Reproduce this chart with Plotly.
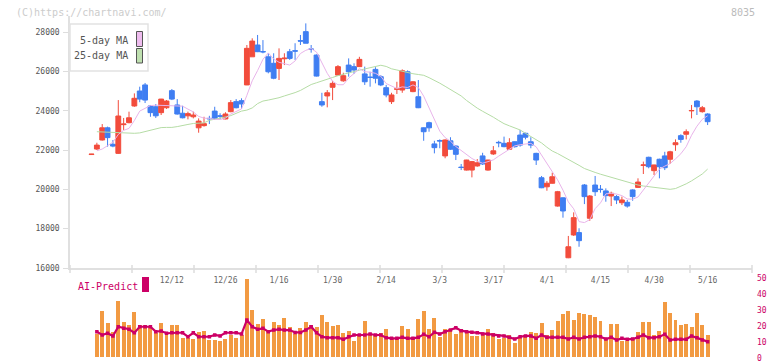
import plotly.graph_objects as go

# ---------------- data ----------------
idx = list(range(116))
tick_idx = [15, 25, 35, 45, 55, 65, 75, 85, 95, 105, 115]
tick_labels = ["12/12", "12/26", "1/16", "1/30", "2/14", "3/3", "3/17", "4/1", "4/15", "4/30", "5/16"]
price_ticks = [16000, 18000, 20000, 22000, 24000, 26000, 28000]
price_tick_labels = ["16000", "18000", "20000", "22000", "24000", "26000", "28000"]
ai_ticks = [0, 10, 20, 30, 40, 50]

opens = [21770, 22050, 22510, 23130, 22290, 21830, 23290, 23390, 24240, 25000,
         25310, 24240, 24200, 23900, 24150, 25020, 24290, 23870, 23740, 23690,
         23130, 23240, 23610, 23980, 23740, 23580, 23950, 24460, 24510, 25310,
         26740, 27340, 27010, 26740, 26410, 26150, 26640, 27000, 27050, 27560,
         28020, 27140, 26830, 24460, 24750, 25190, 25810, 25520, 26320, 26240,
         26240, 25870, 25710, 26100, 25730, 25170, 24460, 25090, 25050, 25980,
         24970, 24710, 23130, 23390, 22310, 22480, 21700, 22470, 22200, 21130,
         20980, 20980, 21190, 21700, 20980, 21800, 22390, 22340, 22040, 22420,
         22760, 22850, 22420, 21830, 20590, 20130, 20310, 19150, 19570, 16520,
         17680, 17800, 20220, 18530, 20220, 20010, 19920, 19660, 19630, 19320,
         19340, 19970, 20100, 21220, 21630, 20950, 21530, 21700, 21530, 22270,
         22730, 22800, 23990, 24490, 23950, 23830]
highs = [21800, 22370, 23320, 23190, 22510, 24540, 23630, 23950, 24880, 25220,
         25410, 24290, 24340, 24600, 24540, 25100, 24590, 24250, 23950, 23950,
         23610, 23690, 23740, 24200, 23870, 23920, 24540, 24590, 24630, 27340,
         27680, 27850, 27590, 26920, 26920, 27170, 26920, 27140, 27430, 27850,
         28440, 27340, 26860, 24910, 25050, 25520, 26320, 25930, 26660, 26410,
         26740, 26240, 25980, 26210, 25810, 25310, 24910, 25470, 26100, 26050,
         25500, 25560, 23150, 23440, 22470, 22540, 22540, 22650, 22250, 21290,
         21500, 21440, 21540, 21860, 21500, 22200, 22470, 22680, 22600, 22440,
         23020, 22880, 22650, 21860, 20680, 20420, 20850, 19920, 19590, 17630,
         18830, 18020, 20270, 19710, 20680, 20220, 20050, 19880, 19710, 19630,
         19460, 20000, 20560, 21410, 21660, 21250, 21560, 21910, 21960, 22540,
         22800, 23050, 24290, 24540, 24240, 23870]
lows = [21760, 22000, 22480, 22170, 22140, 21800, 23020, 23360, 24200, 24430,
        24390, 23690, 23630, 23780, 24090, 24540, 23800, 23610, 23560, 23610,
        22880, 23190, 23320, 23530, 23560, 23560, 23920, 24120, 24090, 25300,
        26740, 26980, 26920, 25900, 25600, 25560, 26320, 26580, 26580, 27340,
        27430, 26950, 25740, 24200, 24170, 24540, 25810, 25470, 25730, 25870,
        26220, 25310, 25220, 25390, 25250, 24680, 24340, 24850, 24910, 25100,
        24940, 24130, 22470, 22930, 21830, 22090, 21580, 22000, 21490, 20980,
        20960, 20610, 21150, 21240, 20950, 21750, 22140, 22140, 22000, 22120,
        22170, 22540, 22090, 21240, 20060, 19930, 20290, 19120, 18560, 16500,
        17630, 17080, 19250, 18400, 19660, 19830, 19370, 19150, 19250, 19200,
        19070, 19420, 20080, 20780, 21070, 20730, 20560, 20980, 21290, 21960,
        22370, 22540, 23610, 23780, 23900, 23270]
closes = [21790, 22250, 23130, 22630, 22200, 23730, 23320, 23640, 24630, 24590,
          24540, 23900, 23740, 24590, 24490, 24590, 23830, 23640, 23850, 23780,
          23470, 23340, 23590, 23610, 23720, 23830, 24410, 24150, 24340, 27170,
          27540, 27000, 26990, 25980, 25650, 26660, 26670, 26660, 27030, 27540,
          27430, 27120, 25760, 24290, 24910, 25390, 26240, 25780, 25980, 26070,
          26610, 25470, 25690, 25650, 25310, 24800, 24800, 25110, 26030, 25140,
          25470, 24150, 22930, 23130, 22120, 22460, 22510, 22040, 21780, 21110,
          21490, 21410, 21350, 21290, 21490, 21960, 22370, 22170, 22370, 22170,
          22250, 22650, 22250, 21490, 20080, 20310, 20640, 19880, 18900, 17080,
          18560, 17390, 19630, 19660, 19880, 19990, 19680, 19800, 19460, 19460,
          19150, 19630, 20370, 21240, 21150, 21240, 21150, 21100, 21910, 22370,
          22540, 22930, 24010, 24200, 24150, 23440]

ma5 = [None,
       21960, 22050, 22220, 22400, 22790, 23000, 23100, 23500, 23980, 24140,
       24260, 24280, 24270, 24250, 24260, 24250, 24230, 24080, 23940, 23710,
       23620, 23610, 23560, 23550, 23620, 23830, 23940, 24090, 24780, 25520,
       26040, 26610, 26940, 26630, 26460, 26390, 26320, 26530, 26910, 27070,
       27160, 26980, 26430, 25900, 25490, 25320, 25320, 25660, 25890, 26140,
       25980, 25960, 25900, 25750, 25380, 25250, 25130, 25210, 25180, 25310,
       25180, 24740, 24160, 23560, 22960, 22630, 22450, 22180, 21980, 21790,
       21570, 21430, 21330, 21410, 21500, 21690, 21860, 22070, 22210, 22270,
       22320, 22340, 22160, 21740, 21360, 20950, 20480, 19960, 19360, 19010,
       18360, 18310, 18460, 19020, 19310, 19770, 19800, 19760, 19680, 19510,
       19500, 19610, 19970, 20310, 20730, 21030, 21180, 21310, 21550, 21810,
       22170, 22750, 23210, 23560, 23740]
ma25 = [None,
        22930, 22920, 22900, 22890, 22870, 22850, 22850, 22850, 22870, 22940,
        23020, 23090, 23140, 23150, 23150, 23190, 23230, 23300, 23350, 23360,
        23380, 23510, 23560, 23610, 23680, 23750, 23850, 23980, 24030, 24140,
        24360, 24490, 24540, 24590, 24660, 24750, 24830, 24920, 25030, 25180,
        25330, 25420, 25500, 25600, 25690, 25780, 25860, 25930, 25990, 26060,
        26130, 26200, 26270, 26310, 26250, 26130, 26070, 26000, 25930, 25880,
        25840, 25800, 25680, 25550, 25400, 25240, 25090, 24930, 24750, 24520,
        24310, 24130, 23970, 23840, 23670, 23500, 23340, 23230, 23120, 23020,
        22850, 22700, 22530, 22360, 22140, 21950, 21820, 21680, 21540, 21390,
        21220, 21060, 20940, 20860, 20770, 20690, 20610, 20530, 20450, 20370,
        20290, 20220, 20170, 20140, 20100, 20070, 20030, 20000, 20040, 20150,
        20280, 20430, 20590, 20780, 21030]

volume = [None,
          14.9, 29.4, 21.9, 16.0, 35.7, 22.5, 20.6, 28.8, 20.6, 20.6,
          20.0, 15.6, 21.9, 15.6, 20.6, 20.6, 12.4, 12.4, 11.8, 16.2,
          16.8, 11.2, 11.2, 10.5, 11.8, 14.3, 12.4, 14.3, 49.5, 30.0,
          21.2, 24.4, 17.4, 22.5, 20.6, 25.0, 19.3, 14.9, 18.7, 22.5,
          20.6, 19.3, 26.9, 22.5, 20.0, 20.6, 15.6, 16.8, 10.5, 13.7,
          23.1, 14.3, 14.9, 15.6, 18.1, 11.8, 11.8, 20.0, 18.1, 13.0,
          24.4, 29.4, 18.1, 25.0, 13.0, 18.1, 18.1, 14.9, 18.1, 15.6,
          13.7, 13.7, 15.6, 18.1, 15.6, 11.8, 12.4, 14.3, 9.2, 12.4,
          14.3, 16.2, 15.6, 21.9, 14.3, 17.4, 23.1, 27.5, 29.4, 23.7,
          28.1, 27.5, 26.9, 25.6, 23.1, 11.8, 21.2, 21.2, 10.5, 10.5,
          12.4, 16.2, 22.5, 22.5, 14.3, 16.8, 35.1, 28.1, 23.7, 20.6,
          21.2, 19.3, 28.1, 20.6, 14.3]
ai_predict = [None,
              16.4, 14.3, 15.4, 13.7, 19.5, 18.5, 17.9, 15.7, 19.5, 19.5,
              19.5, 16.4, 16.8, 15.4, 15.7, 15.7, 15.7, 13.2, 15.7, 13.2,
              13.2, 13.2, 14.3, 13.7, 15.7, 15.7, 15.7, 14.9, 23.7, 19.5,
              17.9, 18.5, 16.4, 17.4, 17.9, 17.4, 17.4, 15.9, 15.9, 17.4,
              19.5, 15.7, 13.2, 12.6, 12.6, 12.6, 11.6, 13.2, 14.3, 14.3,
              14.3, 14.9, 14.3, 14.3, 12.6, 12.2, 12.2, 12.8, 12.2, 12.2,
              12.8, 14.7, 13.2, 16.0, 14.9, 16.4, 17.4, 18.9, 17.0, 16.4,
              16.0, 15.7, 14.9, 14.9, 14.3, 13.7, 13.7, 12.8, 11.8, 13.2,
              13.7, 13.7, 12.2, 14.3, 12.8, 12.8, 12.8, 12.8, 11.8, 12.8,
              11.8, 12.8, 13.2, 13.7, 13.2, 11.8, 12.8, 11.1, 12.2, 11.6,
              11.8, 12.8, 14.3, 12.6, 12.6, 13.2, 14.7, 11.1, 11.6, 11.6,
              11.6, 13.7, 12.6, 11.1, 10.1]

# ---------------- styling helpers ----------------
W, H = 772, 361
FONT = "DejaVu Sans Mono"
RED, BLUE = "#f24c3c", "#3f7ef2"
CRIMSON = "#cc0066"


def px(x):
    return x / W


def py(y):
    return (H - y) / H


fig = go.Figure()

fig.add_trace(go.Candlestick(
    x=idx, open=opens, high=highs, low=lows, close=closes,
    increasing=dict(line=dict(color=RED, width=1), fillcolor=RED),
    decreasing=dict(line=dict(color=BLUE, width=1), fillcolor=BLUE),
    whiskerwidth=0, xaxis="x", yaxis="y", hoverinfo="skip"))
fig.add_trace(go.Scatter(x=idx, y=ma25, mode="lines",
                         line=dict(color="#b5dca5", width=1), xaxis="x", yaxis="y"))
fig.add_trace(go.Scatter(x=idx, y=ma5, mode="lines",
                         line=dict(color="#e8b4ea", width=1), xaxis="x", yaxis="y"))

fig.add_trace(go.Bar(x=idx, y=volume, width=0.74, marker=dict(color="#f29a42", line=dict(width=0)),
                     xaxis="x2", yaxis="y2"))
fig.add_trace(go.Scatter(x=idx, y=ai_predict, mode="lines+markers",
                         line=dict(color=CRIMSON, width=2.2),
                         marker=dict(color=CRIMSON, size=3.5, symbol="square"),
                         xaxis="x2", yaxis="y2"))

xr = [-4.013, 123.28]
fig.update_layout(
    width=W, height=H, margin=dict(l=0, r=0, t=0, b=0, pad=0, autoexpand=False),
    paper_bgcolor="white", plot_bgcolor="white", showlegend=False,
    boxgap=0.1, boxgroupgap=0, bargap=0,
    xaxis=dict(domain=[px(70), px(752)], range=xr, anchor="y", automargin=False,
               tickmode="array", tickvals=tick_idx, ticktext=tick_labels,
               ticks="", showline=True, linecolor="#e0e0e0", linewidth=1.5,
               showgrid=False, zeroline=False, rangeslider=dict(visible=False),
               tickfont=dict(family=FONT, size=8, color="#666"),
               ticklabelstandoff=4),
    yaxis=dict(domain=[py(268), py(16.3)], range=[16000, 28800], anchor="x", automargin=False,
               tickmode="array", tickvals=price_ticks, ticktext=price_tick_labels,
               ticks="outside", ticklen=5, tickcolor="#dddddd",
               showline=True, linecolor="#e0e0e0", linewidth=1.5,
               showgrid=False, zeroline=False,
               tickfont=dict(family=FONT, size=8, color="#555"),
               ticklabelstandoff=2),
    xaxis2=dict(domain=[px(70), px(752)], range=xr, anchor="y2", automargin=False,
                showticklabels=False, ticks="", showline=False,
                showgrid=False, zeroline=False),
    yaxis2=dict(domain=[py(357.7), py(278.3)], range=[0, 50], anchor="x2", automargin=False,
                side="right", tickmode="array", tickvals=ai_ticks,
                ticks="", showline=False, showgrid=False, zeroline=False,
                tickfont=dict(family=FONT, size=8, color=CRIMSON),
                ticklabelstandoff=4, ticklabeloverflow="allow"),
)

shapes = []
# x-axis tick marks (evenly spaced)
for k in range(12):
    xx = 70 + 62 * k
    shapes.append(dict(type="line", xref="paper", yref="paper",
                       x0=px(xx), x1=px(xx), y0=py(265), y1=py(273),
                       line=dict(color="#dddddd", width=1.5)))
# legend box
shapes.append(dict(type="rect", xref="paper", yref="paper",
                   x0=px(70), x1=px(148), y0=py(71), y1=py(24),
                   line=dict(color="#e2e2e2", width=1.5), fillcolor="white"))
shapes.append(dict(type="rect", xref="paper", yref="paper",
                   x0=px(136.5), x1=px(142.5), y0=py(46.5), y1=py(31.5),
                   line=dict(color="#555", width=1), fillcolor="#eebcee"))
shapes.append(dict(type="rect", xref="paper", yref="paper",
                   x0=px(136.5), x1=px(142.5), y0=py(63), y1=py(48.5),
                   line=dict(color="#555", width=1), fillcolor="#bfe0b0"))
# AI-Predict square
shapes.append(dict(type="rect", xref="paper", yref="paper",
                   x0=px(142), x1=px(149), y0=py(292), y1=py(277),
                   line=dict(width=0), fillcolor=CRIMSON))
fig.update_layout(shapes=shapes)

ann = [
    dict(text="(C)https://chartnavi.com/", x=px(14), y=py(12), xanchor="left", yanchor="middle",
         font=dict(family=FONT, size=10, color="#cccccc")),
    dict(text="8035", x=px(757), y=py(12), xanchor="right", yanchor="middle",
         font=dict(family=FONT, size=10, color="#bbbbbb")),
    dict(text="5-day MA", x=px(130), y=py(40.5), xanchor="right", yanchor="middle",
         font=dict(family=FONT, size=10, color="#555")),
    dict(text="25-day MA", x=px(130), y=py(55.5), xanchor="right", yanchor="middle",
         font=dict(family=FONT, size=10, color="#555")),
    dict(text="AI-Predict", x=px(76), y=py(286), xanchor="left", yanchor="middle",
         font=dict(family=FONT, size=10, color=CRIMSON)),
]
for a in ann:
    a.update(xref="paper", yref="paper", showarrow=False)
fig.update_layout(annotations=ann)

fig.write_html("out.html", config={"displayModeBar": False},
               post_script="document.body.style.margin='0';document.body.style.overflow='hidden';")
